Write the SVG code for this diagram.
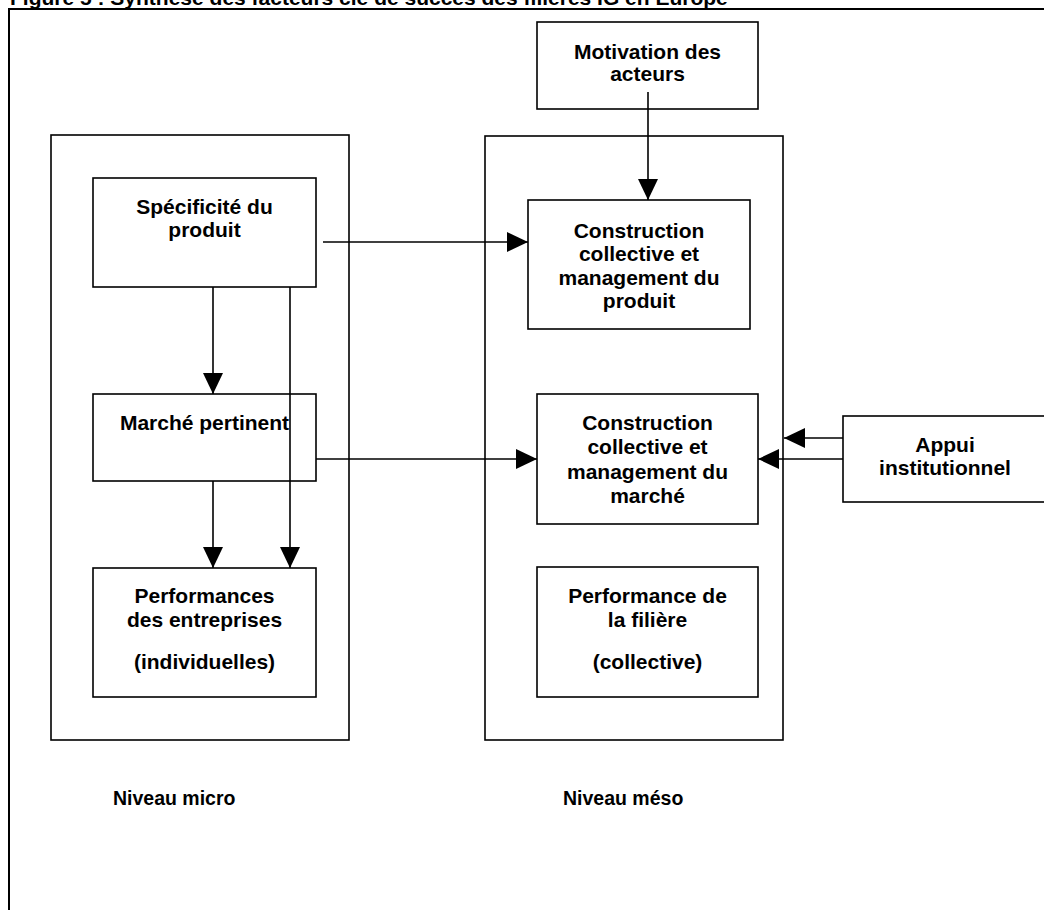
<svg xmlns="http://www.w3.org/2000/svg" width="1044" height="910" viewBox="0 0 1044 910">
  <style>
    .box { fill: #ffffff; stroke: #000000; stroke-width: 1.6; }
    .frame { fill: none; stroke: #000000; stroke-width: 2; }
    .t { font-family: "Liberation Sans", Arial, sans-serif; font-weight: bold; font-size: 21px; fill: #000000; }
    .c { text-anchor: middle; }
    .lbl { font-size: 19.5px; }
    .conn { fill: none; stroke: #000000; stroke-width: 1.6; }
  </style>
  <defs>
    <marker id="arrow" markerUnits="userSpaceOnUse" markerWidth="21" markerHeight="20" refX="21" refY="10" orient="auto">
      <path d="M0,0 L21,10 L0,20 Z" fill="#000000"/>
    </marker>
  </defs>
  <rect x="0" y="0" width="1044" height="910" fill="#ffffff"/>

  <text id="title" class="t" x="10" y="5">Figure 5 : Synthèse des facteurs clé de succès des filières IG en Europe</text>
  <rect id="frame" class="frame" x="9" y="9" width="1100" height="1000"/>

  <g id="micro-level">
    <rect class="box" x="51" y="135" width="298" height="605"/>
    <text class="t lbl" x="113" y="805">Niveau micro</text>
  </g>
  <g id="meso-level">
    <rect class="box" x="485" y="136" width="298" height="604"/>
    <text class="t lbl" x="563" y="805">Niveau méso</text>
  </g>

  <g id="motivation">
    <rect class="box" x="537" y="22" width="221" height="87"/>
    <text class="t c" x="647.5" y="59">Motivation des</text>
    <text class="t c" x="647.5" y="81">acteurs</text>
  </g>

  <g id="specificite">
    <rect class="box" x="93" y="178" width="223" height="109"/>
    <text class="t c" x="204.5" y="214">Spécificité du</text>
    <text class="t c" x="204.5" y="237">produit</text>
  </g>

  <g id="marche-pertinent">
    <rect class="box" x="93" y="394" width="223" height="87"/>
    <text class="t c" x="204.5" y="430">Marché pertinent</text>
  </g>

  <g id="performances-entreprises">
    <rect class="box" x="93" y="568" width="223" height="129"/>
    <text class="t c" x="204.5" y="603">Performances</text>
    <text class="t c" x="204.5" y="627">des entreprises</text>
    <text class="t c" x="204.5" y="669">(individuelles)</text>
  </g>

  <g id="construction-produit">
    <rect class="box" x="528" y="200" width="222" height="129"/>
    <text class="t c" x="639" y="238">Construction</text>
    <text class="t c" x="639" y="261">collective et</text>
    <text class="t c" x="639" y="284.5">management du</text>
    <text class="t c" x="639" y="308">produit</text>
  </g>

  <g id="construction-marche">
    <rect class="box" x="537" y="394" width="221" height="130"/>
    <text class="t c" x="647.5" y="429.5">Construction</text>
    <text class="t c" x="647.5" y="454">collective et</text>
    <text class="t c" x="647.5" y="478.5">management du</text>
    <text class="t c" x="647.5" y="503">marché</text>
  </g>

  <g id="performance-filiere">
    <rect class="box" x="537" y="567" width="221" height="130"/>
    <text class="t c" x="647.5" y="603">Performance de</text>
    <text class="t c" x="647.5" y="627">la filière</text>
    <text class="t c" x="647.5" y="669">(collective)</text>
  </g>

  <g id="appui">
    <rect class="box" x="843" y="416" width="220" height="86"/>
    <text class="t c" x="945" y="452">Appui</text>
    <text class="t c" x="945" y="475">institutionnel</text>
  </g>

  <g id="connectors">
    <line class="conn" x1="213" y1="287" x2="213" y2="394" marker-end="url(#arrow)"/>
    <line class="conn" x1="213" y1="481" x2="213" y2="568" marker-end="url(#arrow)"/>
    <line class="conn" x1="290" y1="287" x2="290" y2="568" marker-end="url(#arrow)"/>
    <line class="conn" x1="323" y1="242" x2="528" y2="242" marker-end="url(#arrow)"/>
    <line class="conn" x1="316" y1="459" x2="537" y2="459" marker-end="url(#arrow)"/>
    <line class="conn" x1="648" y1="92" x2="648" y2="200" marker-end="url(#arrow)"/>
    <line class="conn" x1="843" y1="459" x2="758" y2="459" marker-end="url(#arrow)"/>
    <line class="conn" x1="843" y1="438" x2="784" y2="438" marker-end="url(#arrow)"/>
  </g>
</svg>
